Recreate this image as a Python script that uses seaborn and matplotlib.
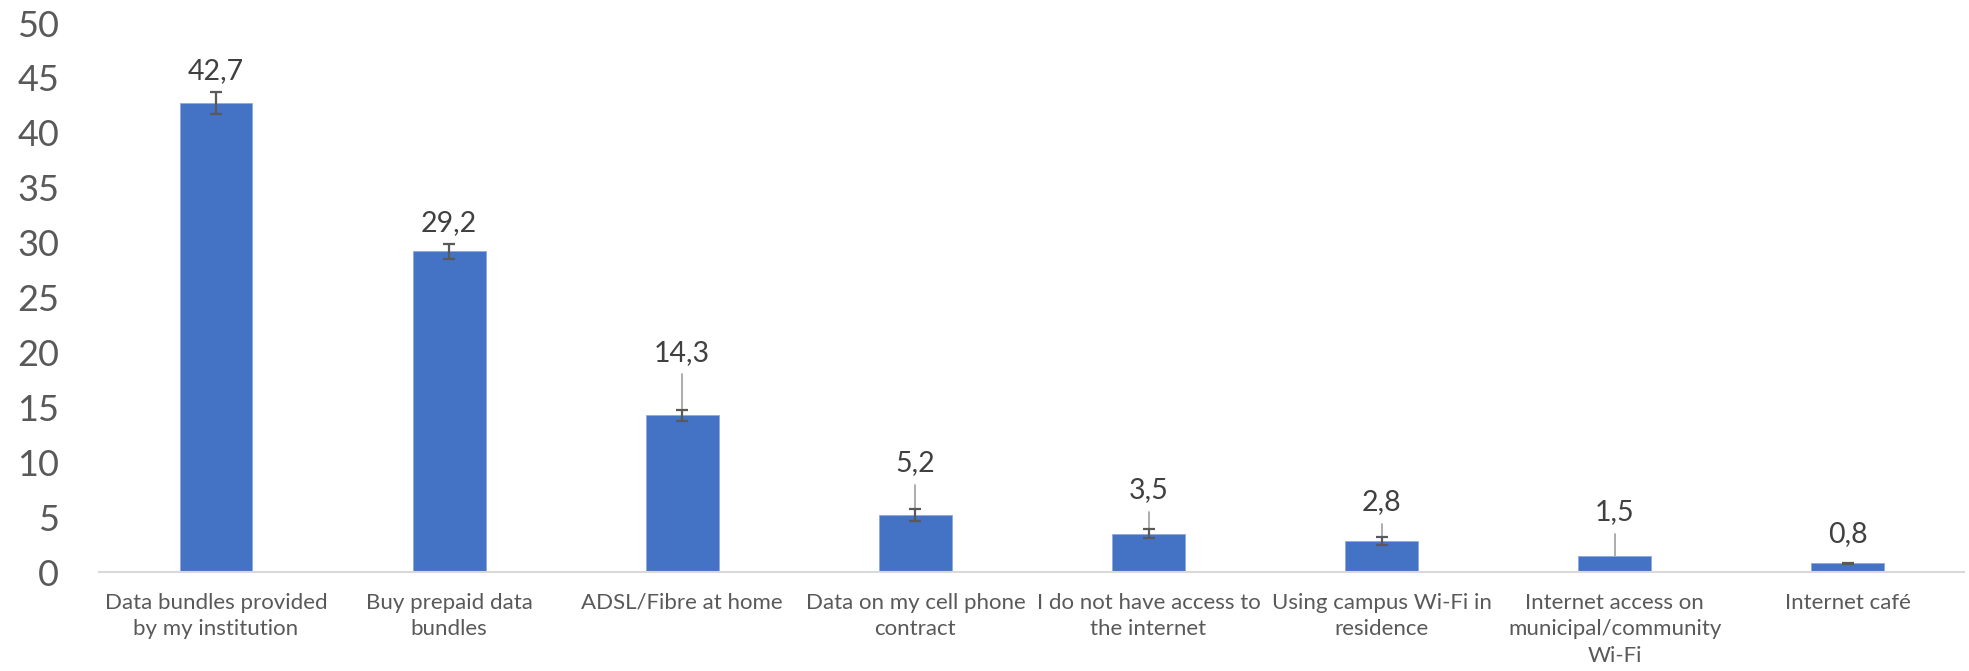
import numpy as np
import pandas as pd
import matplotlib
matplotlib.use("Agg")
import matplotlib.pyplot as plt
import seaborn as sns

categories = [
    "Data bundles provided\nby my institution",
    "Buy prepaid data\nbundles",
    "ADSL/Fibre at home",
    "Data on my cell phone\ncontract",
    "I do not have access to\nthe internet",
    "Using campus Wi-Fi in\nresidence",
    "Internet access on\nmunicipal/community\nWi-Fi",
    "Internet café",
]
values = [42.7, 29.2, 14.3, 5.2, 3.5, 2.8, 1.5, 0.8]
errors = [1.0, 0.7, 0.5, 0.55, 0.4, 0.35, np.nan, 0.05]
label_y = [45.6, 31.75, 19.95, 9.9, 7.45, 6.35, 5.45, 3.5]
y_ticks = [0, 5, 10, 15, 20, 25, 30, 35, 40, 45, 50]

sns.set_theme(style="white")
plt.rcParams["font.family"] = ["Lato", "DejaVu Sans"]

df = pd.DataFrame({"cat": categories, "val": values})

fig = plt.figure(figsize=(19.69, 6.71), dpi=100)
ax = fig.add_axes([0.0505, 0.1475, 0.9472, 0.8182])

sns.barplot(data=df, x="cat", y="val", color="#4472C4", saturation=1,
            width=0.313, errorbar=None, ax=ax, edgecolor="#8FAADC", linewidth=0.6)

xs = np.arange(len(categories))
errs = np.array(errors, dtype=float)
mask = ~np.isnan(errs)
ax.errorbar(xs[mask], np.array(values)[mask], yerr=errs[mask], fmt="none",
            ecolor="#595959", elinewidth=1.6, capsize=4.3, capthick=1.6, zorder=4)

for i, (v, e, ly) in enumerate(zip(values, errors, label_y)):
    top = v + (0 if np.isnan(e) else e)
    if ly - top > 3:
        ax.plot([xs[i], xs[i]], [ly - 1.95, top], color="#A6A6A6", lw=1.3, zorder=3)
    ax.text(xs[i], ly, f"{v:.1f}".replace(".", ","), ha="center", va="center",
            fontsize=20.5, color="#404040")

ax.set_ylim(0, 50)
ax.set_xlim(-0.5, len(categories) - 0.5)
ax.set_yticks(y_ticks)
ax.set_xlabel("")
ax.set_ylabel("")
for s in ["left", "right", "top"]:
    ax.spines[s].set_visible(False)
ax.spines["bottom"].set_color("#D9D9D9")
ax.spines["bottom"].set_linewidth(1.5)
ax.tick_params(axis="y", length=0, pad=29, labelsize=26, labelcolor="#595959")
ax.tick_params(axis="x", length=0, pad=15, labelsize=16, labelcolor="#595959")
for t in ax.get_xticklabels():
    t.set_linespacing(1.4)

fig.savefig("out.png", dpi=100)
